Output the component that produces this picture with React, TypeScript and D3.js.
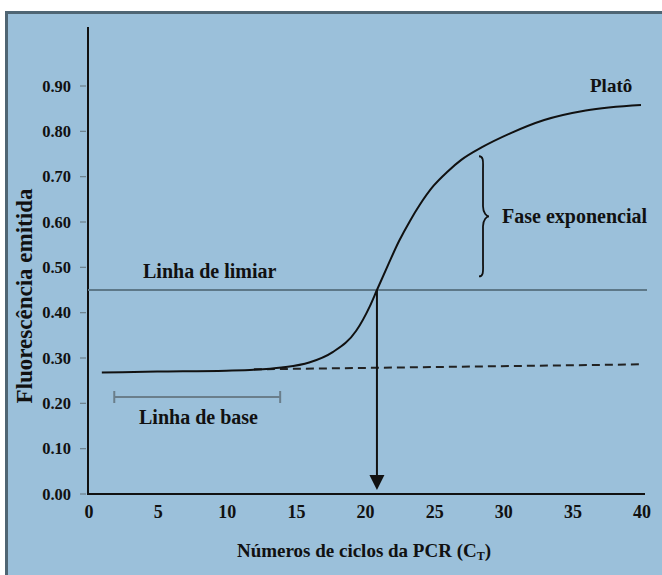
import React, { useEffect, useRef } from "react";
import * as d3 from "d3";

const WIDTH = 662;
const HEIGHT = 575;

// curva de amplificação (ciclo, fluorescência)
const cycles = [1, 5, 10, 12, 14, 16, 17.7, 19.4, 20.4, 20.9, 21.7, 22.5, 23.3, 24, 25, 26, 27, 28.5, 30.5, 33, 36, 40];
const fluorescence = [0.268, 0.27, 0.272, 0.274, 0.279, 0.29, 0.313, 0.36, 0.415, 0.45, 0.505, 0.558, 0.603, 0.638, 0.68, 0.711, 0.737, 0.765, 0.795, 0.825, 0.846, 0.858];

// linha de base extrapolada (tracejada)
const baseCycles = [12, 40];
const baseValues = [0.275, 0.286];

const yTicks = [0, 0.1, 0.2, 0.3, 0.4, 0.5, 0.6, 0.7, 0.8, 0.9];
const xTicks = [0, 5, 10, 15, 20, 25, 30, 35, 40];

const threshold = 0.45;
const ct = 20.9;
const baseRange = [1.9, 13.9];
const baseLevel = 0.214;
const expRange = [0.48, 0.745];

const App: React.FC = () => {
  const ref = useRef<SVGSVGElement | null>(null);

  useEffect(() => {
    if (!ref.current) return;
    const svg = d3.select(ref.current);
    svg.selectAll("*").remove();

    const x = d3.scaleLinear().domain([0, 40]).range([88, 641]);
    const y = d3.scaleLinear().domain([0, 0.9]).range([494, 86]);
    const font = "'Liberation Serif', serif";

    // fundo e moldura
    svg.append("rect").attr("width", WIDTH).attr("height", HEIGHT).attr("fill", "#ffffff");
    svg
      .append("rect")
      .attr("x", 6.5)
      .attr("y", 12.5)
      .attr("width", WIDTH)
      .attr("height", HEIGHT)
      .attr("fill", "#9bc0da")
      .attr("stroke", "#4f6573")
      .attr("stroke-width", 3);

    // eixos
    svg.append("line").attr("x1", x(0)).attr("x2", x(0)).attr("y1", 27).attr("y2", y(0))
      .attr("stroke", "#111").attr("stroke-width", 2);
    svg.append("line").attr("x1", x(0) - 1).attr("x2", x(40) + 4).attr("y1", y(0)).attr("y2", y(0))
      .attr("stroke", "#111").attr("stroke-width", 2);

    const yt = svg.append("g");
    yt.selectAll("line").data(yTicks).enter().append("line")
      .attr("x1", 80).attr("x2", 86)
      .attr("y1", (d) => y(d)).attr("y2", (d) => y(d))
      .attr("stroke", "#6d7f8a").attr("stroke-width", 1.2);
    yt.selectAll("text").data(yTicks).enter().append("text")
      .attr("x", 71).attr("y", (d) => y(d) + 5.5)
      .attr("text-anchor", "end")
      .style("font-family", font).attr("font-weight", "bold").attr("font-size", 16.5)
      .attr("fill", "#111")
      .text((d) => d.toFixed(2));

    svg.append("g").selectAll("text").data(xTicks).enter().append("text")
      .attr("x", (d) => x(d) + 1).attr("y", 518)
      .attr("text-anchor", "middle")
      .style("font-family", font).attr("font-weight", "bold").attr("font-size", 18)
      .attr("fill", "#111")
      .text((d) => String(d));

    // títulos dos eixos
    const xt = svg.append("text")
      .attr("x", 364).attr("y", 557)
      .attr("text-anchor", "middle")
      .style("font-family", font).attr("font-weight", "bold").attr("font-size", 19)
      .attr("fill", "#111");
    xt.append("tspan").text("Números de ciclos da PCR (C");
    xt.append("tspan").attr("font-size", 12).attr("dy", 3).text("T");
    xt.append("tspan").attr("dy", -3).text(")");

    svg.append("text")
      .attr("transform", "translate(32,296) rotate(-90)")
      .attr("text-anchor", "middle")
      .style("font-family", font).attr("font-weight", "bold").attr("font-size", 23)
      .attr("fill", "#111")
      .text("Fluorescência emitida");

    // linha de limiar
    svg.append("line").attr("x1", x(0)).attr("x2", 647).attr("y1", y(threshold)).attr("y2", y(threshold))
      .attr("stroke", "#5d7888").attr("stroke-width", 2);
    svg.append("text").attr("x", 143).attr("y", 278)
      .style("font-family", font).attr("font-weight", "bold").attr("font-size", 20)
      .attr("fill", "#111").text("Linha de limiar");

    // linha de base (tracejada)
    const line = d3.line<[number, number]>().x((d) => x(d[0])).y((d) => y(d[1]));
    svg.append("path")
      .attr("d", line(baseCycles.map((c, i) => [c, baseValues[i]] as [number, number])))
      .attr("fill", "none").attr("stroke", "#222").attr("stroke-width", 2)
      .attr("stroke-dasharray", "8,5");

    // curva de amplificação
    const curve = d3.line<[number, number]>().x((d) => x(d[0])).y((d) => y(d[1])).curve(d3.curveMonotoneX);
    svg.append("path")
      .attr("d", curve(cycles.map((c, i) => [c, fluorescence[i]] as [number, number])))
      .attr("fill", "none").attr("stroke", "#111").attr("stroke-width", 2);

    // seta do Ct
    svg.append("line").attr("x1", x(ct)).attr("x2", x(ct)).attr("y1", y(threshold)).attr("y2", 478)
      .attr("stroke", "#111").attr("stroke-width", 2);
    svg.append("path")
      .attr("d", `M${x(ct) - 7.5},475 L${x(ct) + 7.5},475 L${x(ct)},490 Z`)
      .attr("fill", "#111");

    // intervalo da linha de base
    const bx0 = x(baseRange[0]);
    const bx1 = x(baseRange[1]);
    const by = y(baseLevel);
    svg.append("path")
      .attr("d", `M${bx0},${by - 6}V${by + 6}M${bx0},${by}H${bx1}M${bx1},${by - 6}V${by + 6}`)
      .attr("fill", "none").attr("stroke", "#6a7e8b").attr("stroke-width", 2);
    svg.append("text").attr("x", 139).attr("y", 424)
      .style("font-family", font).attr("font-weight", "bold").attr("font-size", 20)
      .attr("fill", "#111").text("Linha de base");

    // chave da fase exponencial
    const ty = y(expRange[1]);
    const by2 = y(expRange[0]);
    const my = (ty + by2) / 2;
    const bxL = 479;
    const bxR = 487;
    svg.append("path")
      .attr("d",
        `M${bxL},${ty} C${bxL + 5},${ty} ${bxL + 4},${ty + 6} ${bxL + 4},${ty + 14} ` +
        `L${bxL + 4},${my - 10} C${bxL + 4},${my - 3} ${bxR},${my} ${bxR + 2},${my} ` +
        `C${bxR},${my} ${bxL + 4},${my + 3} ${bxL + 4},${my + 10} ` +
        `L${bxL + 4},${by2 - 14} C${bxL + 4},${by2 - 6} ${bxL + 5},${by2} ${bxL},${by2}`)
      .attr("fill", "none").attr("stroke", "#111").attr("stroke-width", 1.8);
    svg.append("text").attr("x", 502).attr("y", 223)
      .style("font-family", font).attr("font-weight", "bold").attr("font-size", 20)
      .attr("fill", "#111").text("Fase exponencial");

    svg.append("text").attr("x", 590).attr("y", 92)
      .style("font-family", font).attr("font-weight", "bold").attr("font-size", 19)
      .attr("fill", "#111").text("Platô");
  }, []);

  return (
    <div style={{ position: "absolute", left: 0, top: 0 }}>
      <svg ref={ref} width={WIDTH} height={HEIGHT} style={{ display: "block" }} />
    </div>
  );
};

export default App;
